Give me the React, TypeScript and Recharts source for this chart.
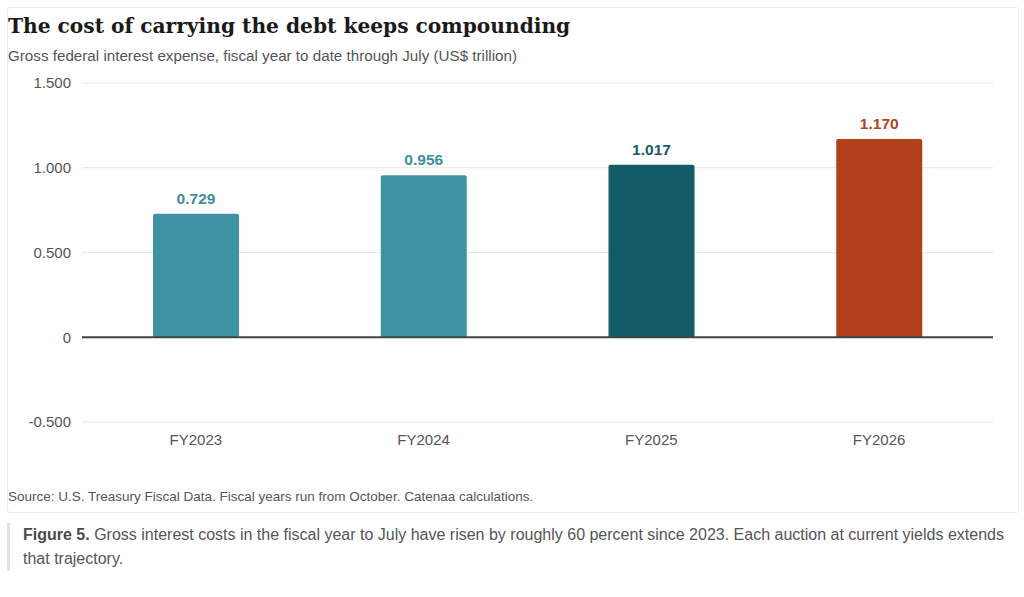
import React from "react";
import { BarChart, Bar, XAxis, YAxis, CartesianGrid, ReferenceLine, Cell, LabelList } from "recharts";

const categories = ["FY2023", "FY2024", "FY2025", "FY2026"];
const values = [0.729, 0.956, 1.017, 1.17];
const barColors = ["#3f93a2", "#3f93a2", "#125b67", "#b2411b"];
const labelColors = ["#3d8f9d", "#3d8f9d", "#175c68", "#b0451e"];
const yTicks = [-0.5, 0, 0.5, 1, 1.5];

const data = categories.map((c, i) => ({ name: c, value: values[i] }));

const fmt = (v: number) => (v === 0 ? "0" : v.toFixed(3));

const sans = "'Liberation Sans', Arial, sans-serif";

const ValueLabel = (props: any) => {
  const { x, y, width, value, index } = props;
  return (
    <text
      x={x + width / 2}
      y={y - 10}
      textAnchor="middle"
      fill={labelColors[index]}
      fontFamily={sans}
      fontSize={15.5}
      fontWeight="bold"
    >
      {fmt(value)}
    </text>
  );
};

export default function App() {
  return (
    <div style={{ position: "absolute", left: 0, top: 0, width: 1024, height: 597, background: "#fff", fontFamily: sans }}>
      <div
        style={{
          position: "absolute",
          left: 7,
          top: 7,
          width: 1010,
          height: 504,
          border: "1px solid #ececec",
          borderRadius: 3,
        }}
      />
      <div
        style={{
          position: "absolute",
          left: 8,
          top: 14,
          fontFamily: "'DejaVu Serif', Georgia, serif",
          fontWeight: "bold",
          fontSize: 20.2,
          color: "#1a1a1a",
          whiteSpace: "nowrap",
        }}
      >
        The cost of carrying the debt keeps compounding
      </div>
      <div style={{ position: "absolute", left: 8, top: 47, fontSize: 15.2, color: "#555", whiteSpace: "nowrap" }}>
        Gross federal interest expense, fiscal year to date through July (US$ trillion)
      </div>
      <div style={{ position: "absolute", left: 0, top: 70 }}>
        <BarChart
          width={1024}
          height={400}
          data={data}
          margin={{ top: 13, right: 31, left: 0, bottom: 18 }}
        >
          <CartesianGrid vertical={false} stroke="#e6e6e6" />
          <XAxis
            dataKey="name"
            axisLine={false}
            tickLine={false}
            tickMargin={6}
            tick={{ fill: "#555", fontSize: 15, fontFamily: sans }}
            height={30}
          />
          <YAxis
            domain={[-0.5, 1.5]}
            ticks={yTicks}
            tickFormatter={fmt}
            axisLine={false}
            tickLine={false}
            width={82}
            tickMargin={5}
            tick={{ fill: "#555", fontSize: 15, fontFamily: sans }}
            interval={0}
          />
          <Bar dataKey="value" barSize={86} radius={[2, 2, 0, 0]} isAnimationActive={false}>
            {data.map((d, i) => (
              <Cell key={d.name} fill={barColors[i]} />
            ))}
            <LabelList dataKey="value" content={<ValueLabel />} />
          </Bar>
          <ReferenceLine y={0} stroke="#3c4448" strokeWidth={2} />
        </BarChart>
      </div>
      <div style={{ position: "absolute", left: 8, top: 489, fontSize: 13.5, color: "#555", whiteSpace: "nowrap" }}>
        Source: U.S. Treasury Fiscal Data. Fiscal years run from October. Catenaa calculations.
      </div>
      <div
        style={{
          position: "absolute",
          left: 7,
          top: 523,
          width: 1000,
          height: 48,
          borderLeft: "3px solid #e2e2e2",
        }}
      />
      <div
        style={{
          position: "absolute",
          left: 23,
          top: 523,
          fontSize: 16,
          lineHeight: "24px",
          color: "#555",
          whiteSpace: "nowrap",
        }}
      >
        <b style={{ color: "#4a4a4a" }}>Figure 5.</b> Gross interest costs in the fiscal year to July have risen by roughly 60 percent since 2023. Each auction at current yields extends
      </div>
      <div
        style={{
          position: "absolute",
          left: 23,
          top: 547,
          fontSize: 16,
          lineHeight: "24px",
          color: "#555",
          whiteSpace: "nowrap",
        }}
      >
        that trajectory.
      </div>
    </div>
  );
}
